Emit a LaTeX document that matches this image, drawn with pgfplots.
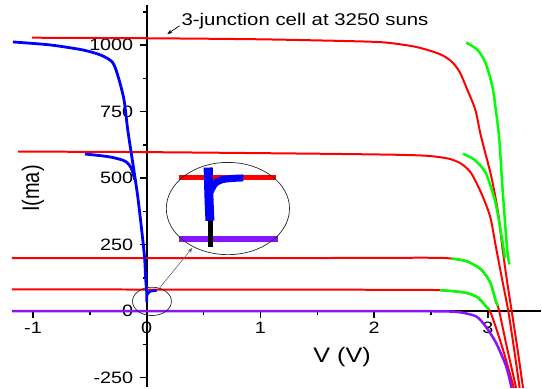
\documentclass[border=0pt]{standalone}
\usepackage{pgfplots}
\pgfplotsset{compat=1.18}
\usepackage{fontspec}
\setmainfont{Liberation Sans}[FakeStretch=1.2]
\newfontfamily\plainsans{Liberation Sans}
\usepackage{graphicx}
\usetikzlibrary{arrows.meta}
\definecolor{myviolet}{RGB}{135,20,255}
\begin{document}
\begin{tikzpicture}
\begin{axis}[
  scale only axis, width=530bp, height=383bp,
  xmin=-1.185, xmax=3.468, ymin=-286, ymax=1151,
  axis lines=middle,
  axis line style={-, line width=1.9bp, black},
  hide obscured x ticks=false, hide obscured y ticks=false,
  xtick={-1,0,1,2,3}, xticklabels={-1,0,1,2,3},
  minor xtick={-0.5,0.5,1.5,2.5},
  ytick={-250,0,250,500,750,1000}, yticklabels={-250,0,250,500,750,1000},
  minor ytick={-125,125,375,625,875,1125},
  tick align=outside,
  major tick length=7bp, minor tick length=4bp,
  tick style={line width=1.5bp, black},
  tick label style={font=\fontsize{16.5bp}{18bp}\selectfont},
  yticklabel style={xshift=-3bp},
  clip=true,
  every axis plot/.append style={smooth, tension=0.45},
]
% red curves
\addplot[red, line width=2bp] coordinates {(-1.01,1028) (0,1026) (1,1022) (1.8,1015) (2.1,1010) (2.35,995) (2.5,978) (2.6,962) (2.68,939) (2.75,901) (2.82,832) (2.89,757) (2.94,657) (3.03,507) (3.09,371) (3.13,232) (3.17,110) (3.21,0) (3.26,-140) (3.31,-290)};
\addplot[red, line width=2bp] coordinates {(-1.13,600) (0,598) (1.5,592) (2.2,588) (2.47,584) (2.65,574) (2.76,556) (2.85,521) (2.94,446) (3.02,356) (3.07,244) (3.13,110) (3.18,0) (3.23,-140) (3.28,-290)};
\addplot[red, line width=2bp] coordinates {(-1.185,200) (1.5,200) (2.47,201) (2.68,198) (2.82,187) (2.94,157) (3.02,109) (3.07,38) (3.10,0) (3.17,-140) (3.25,-290)};
\addplot[red, line width=2bp] coordinates {(-1.185,82) (1.5,81) (2.47,80) (2.62,78) (2.80,70) (2.91,52) (2.98,20) (3.03,-11) (3.13,-140) (3.23,-290)};
% green curves
\addplot[green, line width=2.5bp] coordinates {(2.81,1010) (2.91,982) (2.98,933) (3.04,845) (3.07,757) (3.10,650) (3.13,457) (3.17,232) (3.19,176)};
\addplot[green, line width=2.5bp] coordinates {(2.78,592) (2.88,570) (2.98,521) (3.06,420) (3.10,334) (3.14,232) (3.15,200)};
\addplot[green, line width=2.5bp] coordinates {(2.68,198) (2.82,187) (2.94,157) (3.02,109) (3.07,38) (3.09,20)};
\addplot[green, line width=2.5bp] coordinates {(2.58,79) (2.80,70) (2.91,52) (2.98,20) (3.01,6)};
% purple
\addplot[myviolet, line width=2.5bp] coordinates {(-1.185,0) (2.3,0) (2.66,-1) (2.77,-5) (2.90,-20) (2.98,-57) (3.07,-117) (3.16,-206) (3.21,-290)};
% blue
\addplot[blue, line width=2.8bp] coordinates {(-1.176,1012) (-0.852,1001) (-0.562,982) (-0.40,962) (-0.30,935) (-0.25,880) (-0.20,795) (-0.167,682) (-0.123,558) (-0.079,431) (-0.035,270) (-0.018,195) (-0.009,120) (0,71) (0,34)};
\addplot[blue, line width=2.8bp] coordinates {(-0.544,591) (-0.325,580) (-0.19,564) (-0.135,537) (-0.105,494)};
\addplot[blue, line width=2.5bp] coordinates {(0,59) (0.026,74) (0.088,78)};
% inset contents
\addplot[red, line width=6bp, sharp plot] coordinates {(0.283,502.6) (1.138,502.6)};
\addplot[myviolet, line width=6bp, sharp plot] coordinates {(0.283,270.3) (1.153,270.3)};
\addplot[black, line width=5bp, sharp plot] coordinates {(0.560,538) (0.560,241.7)};
\addplot[blue, line width=9bp] coordinates {(0.540,540) (0.548,420) (0.556,340)};
\addplot[blue, line width=7bp] coordinates {(0.56,450) (0.60,480) (0.66,494) (0.75,499) (0.85,501)};
% annotations
\draw[line width=0.7bp, black!85] (axis cs:0.714,386) ellipse [x radius=61.7bp, y radius=46.2bp];
\draw[line width=0.7bp, black!85] (axis cs:0.046,37) ellipse [x radius=19.5bp, y radius=14.2bp];
\draw[-{Stealth[length=5bp,width=4bp]}, line width=0.6bp, black!60] (axis cs:0.114,88) -- (axis cs:0.401,238);
\draw[-{Stealth[length=5bp,width=4bp]}, line width=0.7bp, black] (axis cs:0.289,1073) -- (axis cs:0.182,1042);
\node[anchor=base west, inner sep=0pt, font=\fontsize{17bp}{19bp}\selectfont] at (axis cs:0.305,1074) {3-junction cell at 3250 suns};
\node[font=\fontsize{21bp}{24bp}\selectfont] at (axis cs:1.718,-172) {V (V)};
\node at (axis cs:-1.0,461) {\scalebox{1.2}[1]{\rotatebox{90}{\plainsans\fontsize{20bp}{24bp}\selectfont I(ma)}}};
\end{axis}
\path ([xshift=-12bp]current axis.south west) rectangle ([yshift=5bp]current axis.north east);
\end{tikzpicture}
\end{document}
